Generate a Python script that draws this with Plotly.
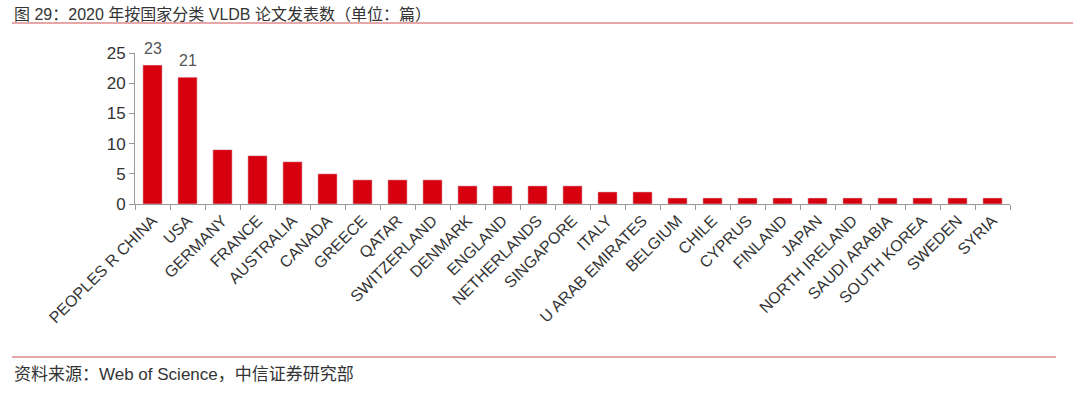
import plotly.graph_objects as go

countries = ["PEOPLES R CHINA", "USA", "GERMANY", "FRANCE", "AUSTRALIA", "CANADA", "GREECE",
             "QATAR", "SWITZERLAND", "DENMARK", "ENGLAND", "NETHERLANDS", "SINGAPORE", "ITALY",
             "U ARAB EMIRATES", "BELGIUM", "CHILE", "CYPRUS", "FINLAND", "JAPAN", "NORTH IRELAND",
             "SAUDI ARABIA", "SOUTH KOREA", "SWEDEN", "SYRIA"]
papers = [23, 21, 9, 8, 7, 5, 4, 4, 4, 3, 3, 3, 3, 2, 2, 1, 1, 1, 1, 1, 1, 1, 1, 1, 1]
labelled = ["PEOPLES R CHINA", "USA"]
y_ticks = [0, 5, 10, 15, 20, 25]

title_text = "图 29：2020 年按国家分类 VLDB 论文发表数（单位：篇）"
source_text = "资料来源：Web of Science，中信证券研究部"

FONT = "Arial, Liberation Sans, Noto Sans CJK SC, sans-serif"

W, H = 1080, 397
L, R, T, B = 135, 70, 53, 193
PW, PH = W - L - R, H - T - B

def px_x(x):
    return (x - L) / PW

def px_y(y):
    return (H - B - y) / PH

fig = go.Figure()
fig.add_trace(go.Bar(
    x=countries, y=papers, marker_color="#d7000f", width=0.55,
))

annotations = []
for c in labelled:
    v = papers[countries.index(c)]
    annotations.append(dict(x=c, y=v, xref="x", yref="y", text=str(v), showarrow=False,
                            yanchor="bottom", yshift=6,
                            font=dict(size=16, color="#555555", family=FONT)))
annotations += [
    dict(text=title_text, xref="paper", yref="paper", x=px_x(12), y=px_y(14),
         xanchor="left", yanchor="middle", showarrow=False,
         font=dict(size=16, color="#333333", family=FONT)),
    dict(text=source_text, xref="paper", yref="paper", x=px_x(12), y=px_y(375),
         xanchor="left", yanchor="middle", showarrow=False,
         font=dict(size=17, color="#333333", family=FONT)),
]

fig.update_layout(
    width=W, height=H,
    margin=dict(l=L, r=R, t=T, b=B),
    paper_bgcolor="white", plot_bgcolor="white",
    showlegend=False,
    font=dict(family=FONT, color="#333333"),
    xaxis=dict(
        type="category", tickangle=-45, tickfont=dict(size=16, color="#333333"),
        showline=True, linecolor="#999999", linewidth=1,
        ticks="outside", tickson="boundaries", ticklen=5, tickcolor="#999999",
        showgrid=False, automargin=False,
    ),
    yaxis=dict(
        range=[0, 25], tickvals=y_ticks, tickfont=dict(size=17, color="#333333"),
        showline=True, linecolor="#999999", linewidth=1,
        ticks="outside", ticklen=5, tickcolor="#999999",
        showgrid=False, zeroline=False, automargin=False,
    ),
    shapes=[
        dict(type="line", xref="paper", yref="paper", x0=px_x(12), x1=px_x(1073),
             y0=px_y(23), y1=px_y(23), line=dict(color="#dd8a8a", width=1.5)),
        dict(type="line", xref="paper", yref="paper", x0=px_x(12), x1=px_x(1056),
             y0=px_y(357), y1=px_y(357), line=dict(color="#dd8a8a", width=1.5)),
    ],
    annotations=annotations,
)

fig.write_html("out.html", config={"displayModeBar": False},
               post_script="document.body.style.margin='0';")
